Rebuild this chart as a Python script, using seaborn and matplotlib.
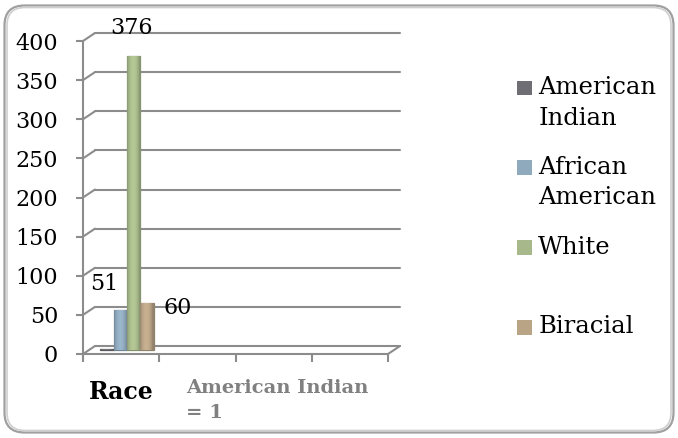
import numpy as np
import pandas as pd
import seaborn as sns
import matplotlib
matplotlib.use("Agg")
import matplotlib.pyplot as plt
import matplotlib.patches as mpatches
from matplotlib.patches import FancyBboxPatch
from matplotlib.transforms import ScaledTranslation
from matplotlib.legend_handler import HandlerPatch

# ---- data ----
categories = ["Race", "American Indian\n= 1", "", ""]
races = ["American Indian", "African American", "White", "Biracial"]
counts = [1, 51, 376, 60]
legend_labels = ["American\nIndian", "African\nAmerican", "White\n ", "Biracial\n "]
value_labels = ["", "51", "376", "60"]
yticks = [0, 50, 100, 150, 200, 250, 300, 350, 400]
colors = ["#6f6e74", "#8fa9bd", "#a7b98a", "#b9a486"]

# ---- style ----
label_offsets = [(0, 0), (-7, 21.5), (3, 23), (16, -1)]
label_ha = ["center", "center", "center", "left"]
grid_color = "#8c8c8c"

sns.set_theme(style="white")
plt.rcParams["font.family"] = ["DejaVu Serif"]
plt.rcParams["text.color"] = "black"

fig = plt.figure(figsize=(6.78, 4.38), dpi=100)
ax = fig.add_axes([83 / 678, 1 - 354 / 438, 305 / 678, 313 / 438])

df = pd.DataFrame({"category": [categories[0]] * len(races), "race": races, "count": counts})
sns.barplot(data=df, x="category", y="count", hue="race", hue_order=races,
            palette=colors, width=0.7, saturation=1, ax=ax, legend=True,
            errorbar=None, zorder=3)

back = ScaledTranslation(0.12, 0.08, fig.dpi_scale_trans)
mid = ScaledTranslation(0.06, 0.04, fig.dpi_scale_trans)

bars = list(ax.patches)
tt = np.linspace(0, 1, 64)
shade = 0.80 + 0.28 * np.sin(np.pi * np.clip(tt * 1.1, 0, 1)) ** 0.7
for p in bars:
    fc = np.array(matplotlib.colors.to_rgb(p.get_facecolor()))
    p.set_edgecolor(fc * 0.78)
    p.set_linewidth(0.9)
    p.set_transform(p.get_data_transform() + mid)
    # cylinder-like shading clipped to the bar
    img = np.clip(fc[None, :] * shade[:, None], 0, 1)[None, :, :]
    x0, w, h = p.get_x(), p.get_width(), p.get_height()
    im = ax.imshow(img, extent=(x0, x0 + w, 0, h), aspect="auto",
                   interpolation="bilinear", zorder=3.2)
    im.set_transform(ax.transData + mid)
    im.set_clip_path(p)

# back-wall gridlines (3D look)
for v in yticks:
    ln = ax.axhline(v, color=grid_color, lw=1.5, zorder=0.5, clip_on=False)
    ln.set_transform(ln.get_transform() + back)
    ax.annotate("", xy=(0, v), xycoords=ax.get_yaxis_transform(),
                xytext=(8.64, 5.76), textcoords="offset points",
                arrowprops=dict(arrowstyle="-", color=grid_color, lw=1.5,
                                shrinkA=0, shrinkB=0),
                annotation_clip=False)
ax.annotate("", xy=(1, 0), xycoords=ax.get_yaxis_transform(),
            xytext=(8.64, 5.76), textcoords="offset points",
            arrowprops=dict(arrowstyle="-", color=grid_color, lw=1.5,
                            shrinkA=0, shrinkB=0),
            annotation_clip=False)

# value labels
for p, txt, off, ha in zip(bars, value_labels, label_offsets, label_ha):
    if not txt:
        continue
    ax.annotate(txt, xy=(p.get_x() + p.get_width() / 2, p.get_height()),
                xycoords="data", xytext=off, textcoords="offset points",
                ha=ha, va="center", fontsize=16, color="black",
                annotation_clip=False)

# axes
ax.set_ylim(0, 400)
ax.set_yticks(yticks)
ax.set_xlim(-0.5, 3.5)
ax.set_xticks([-0.5, 0.5, 1.5, 2.5, 3.5], minor=True)
ax.set_xticks([0, 1])
xl = ax.set_xticklabels(categories[:2])
ax.set_xlabel("")
ax.set_ylabel("")
for s in ["top", "right"]:
    ax.spines[s].set_visible(False)
for s in ["left", "bottom"]:
    ax.spines[s].set_color(grid_color)
    ax.spines[s].set_linewidth(1.5)
ax.tick_params(axis="y", length=5, width=1.5, color=grid_color, labelsize=16,
               pad=13, left=True, labelcolor="black")
ax.tick_params(axis="x", which="minor", length=6, width=1.5, color=grid_color,
               bottom=True, direction="out")
ax.tick_params(axis="x", which="major", length=0, pad=19)
xl[0].set_fontsize(17)
xl[0].set_fontweight("bold")
xl[0].set_color("black")
xl[1].set_fontsize(14)
xl[1].set_fontweight("bold")
xl[1].set_color("#808080")
xl[1].set_ha("left")
xl[1].set_multialignment("left")
xl[1].set_linespacing(1.5)
xl[1].set_transform(xl[1].get_transform() + ScaledTranslation(-0.11, 0.01, fig.dpi_scale_trans))


# legend with square at top line
def top_square(legend, orig_handle, xdescent, ydescent, width, height, fontsize):
    s = 0.6 * fontsize
    y0 = 0.98 * fontsize - s / 2
    return mpatches.Rectangle((-xdescent, y0), s, s)


handles, _ = ax.get_legend_handles_labels()
if ax.get_legend():
    ax.get_legend().remove()
leg = ax.legend(handles, legend_labels, loc="upper left",
                bbox_to_anchor=(517 / 678, 1 - 76 / 438), bbox_transform=fig.transFigure,
                frameon=False, fontsize=17.5, handlelength=0.62, handletextpad=0.25,
                labelspacing=1.08, borderpad=0, borderaxespad=0,
                handler_map={mpatches.Patch: HandlerPatch(patch_func=top_square)})
for t in leg.get_texts():
    t.set_linespacing(1.42)
    t.set_color("black")
for h in leg.legend_handles:
    h.set_edgecolor("none")

# rounded frame around the figure
fig.patches.append(FancyBboxPatch((0.045, 0.055), 6.69, 4.27,
                                  boxstyle="round,pad=0,rounding_size=0.2",
                                  transform=fig.dpi_scale_trans, fill=False,
                                  ec="#a0a0a0", lw=1.6))
fig.patches.append(FancyBboxPatch((0.07, 0.075), 6.64, 4.23,
                                  boxstyle="round,pad=0,rounding_size=0.18",
                                  transform=fig.dpi_scale_trans, fill=False,
                                  ec="#cfcfcf", lw=1.2))

fig.savefig("out.png", dpi=100)
